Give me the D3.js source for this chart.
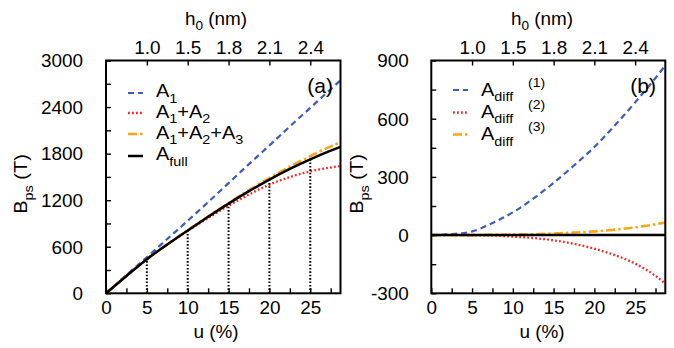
<!DOCTYPE html>
<html><head><meta charset="utf-8">
<script src="https://cdn.jsdelivr.net/npm/d3@7"></script>
<style>
body{margin:0;background:#fff}
text{font-family:"Liberation Sans",Arial,Helvetica,sans-serif;fill:#000}
</style>
</head><body>
<svg id="chart" width="674" height="348"></svg>
<script>
// ---- data ----
const u = [0, 2.5, 5, 7.5, 10, 12.5, 15, 17.5, 20, 22.5, 25, 27.5, 28.7];
const A1 = [0, 235, 465, 700, 935, 1175, 1420, 1665, 1905, 2150, 2390, 2630, 2745];
const A12 = [0, 224, 439, 628, 803, 970, 1128, 1272, 1400, 1498, 1572, 1622, 1640];
const A123 = [0, 224, 440, 631, 812, 990, 1164, 1329, 1485, 1631, 1766, 1894, 1945];
const Afull = [0, 224, 440, 630, 810, 986, 1156, 1316, 1466, 1603, 1726, 1838, 1888];
const diff1 = [0, 5, 19, 62, 117, 188, 269, 359, 454, 565, 684, 810, 875];
const diff2 = [0, 0, -1, -2, -8, -15, -27, -45, -70, -103, -147, -210, -250];
const diff3 = [0, 0, 0, 1, 2, 4, 8, 13, 19, 28, 40, 56, 65];
const diffFull = [0, 0, 0, 0, 0, 0, 0, 0, 0, 0, 0, 0, 0];
const dropU = [5, 10, 15, 20, 25];
const dropB = [440, 810, 1156, 1466, 1726];
const uTicks = [0, 2.5, 5, 7.5, 10, 12.5, 15, 17.5, 20, 22.5, 25, 27.5];
const h0Ticks = [5, 10, 15, 20, 25];
const h0Labels = ["1.0", "1.5", "1.8", "2.1", "2.4"];
const yTicksA = [0, 300, 600, 900, 1200, 1500, 1800, 2100, 2400, 2700, 3000];
const yTicksB = [-300, -150, 0, 150, 300, 450, 600, 750, 900];

const SX = 1.08, FS = 17.5, LFS = 18.5;
const svg = d3.select("#chart");

const C = {blue: "#3a5cba", red: "#ff2222", orange: "#ffa510", black: "#000"};
const styles = {
  blue: {color: C.blue, w: 2.2, dash: "6,4"},
  red: {color: C.red, w: 2.3, dash: "1.8,2.2"},
  orange: {color: C.orange, w: 2.6, dash: "9,3,2.5,3"},
  black: {color: C.black, w: 2.5, dash: null}
};

function rich(g, x, y, parts, opt = {}) {
  const size = opt.size || FS;
  const t = g.append("text")
    .attr("transform", `translate(${x},${y})${opt.rotate ? ` rotate(${opt.rotate})` : ""} scale(${SX},1)`)
    .attr("text-anchor", opt.anchor || "start")
    .style("font-size", size + "px");
  let shift = 0;
  parts.forEach(p => {
    const target = p.sub ? size * 0.3 : 0;
    t.append("tspan").attr("dy", target - shift)
      .style("font-size", (p.sub ? size * 0.72 : size) + "px").text(p.t);
    shift = target;
  });
  return t;
}

function panel(cfg) {
  const x = d3.scaleLinear().domain([0, 28.7]).range([cfg.x0, cfg.x1]);
  const y = d3.scaleLinear().domain(cfg.ydom).range([293.3, 60.5]);
  const g = svg.append("g");

  const line = vals => d3.line().x((d, i) => x(u[i])).y(d => y(d)).curve(d3.curveMonotoneX)(vals);
  cfg.series.forEach(s => {
    const st = styles[s.style];
    g.append("path").attr("d", line(s.vals)).attr("fill", "none")
      .attr("stroke", st.color).attr("stroke-width", st.w)
      .attr("stroke-dasharray", st.dash);
  });

  if (cfg.drops) {
    g.selectAll(".drop").data(dropU).enter().append("line")
      .attr("x1", d => x(d)).attr("x2", d => x(d))
      .attr("y1", y(0)).attr("y2", (d, i) => y(dropB[i]))
      .attr("stroke", "#000").attr("stroke-width", 2).attr("stroke-dasharray", "1.6,1.8");
  }

  const ax = g.append("g").attr("transform", `translate(0,${y.range()[0]})`)
    .call(d3.axisBottom(x).tickValues(uTicks).tickSize(-5).tickFormat(d => d % 5 === 0 ? d : ""));
  ax.selectAll("text").attr("y", 8).attr("dy", "0.71em").style("font-size", FS + "px")
    .attr("transform", `scale(${SX},1)`);
  const at = g.append("g").attr("transform", `translate(0,${y.range()[1]})`)
    .call(d3.axisTop(x).tickValues(h0Ticks).tickSize(-5).tickFormat((d, i) => h0Labels[i]));
  at.selectAll("text").attr("y", -7).attr("dy", "0").style("font-size", FS + "px")
    .attr("transform", `scale(${SX},1)`);
  const al = g.append("g").attr("transform", `translate(${x.range()[0]},0)`)
    .call(d3.axisLeft(y).tickValues(cfg.yticks).tickSize(-5).tickFormat(d => d % cfg.lab === 0 ? d : ""));
  al.selectAll("text").attr("x", -cfg.gap / SX).attr("dy", "0.36em").style("font-size", FS + "px")
    .attr("transform", `scale(${SX},1)`);
  [ax, at, al].forEach(a => {
    a.select(".domain").remove();
    a.selectAll("line").attr("stroke", "#000").attr("stroke-width", 1.4);
  });

  g.append("rect").attr("x", cfg.x0).attr("y", 60.5).attr("width", cfg.x1 - cfg.x0).attr("height", 293.3 - 60.5)
    .attr("fill", "none").attr("stroke", "#000").attr("stroke-width", 2);

  rich(g, cfg.tx, 338, [{t: "u (%)"}], {anchor: "middle"});
  rich(g, cfg.tx, 25, [{t: "h"}, {t: "0", sub: true}, {t: " (nm)"}], {anchor: "middle"});
  rich(g, cfg.bx, 184, [{t: "B"}, {t: "ps", sub: true}, {t: " (T)"}], {anchor: "middle", rotate: -90, size: 18.5});
  rich(g, cfg.lx, 93, [{t: cfg.label}], {anchor: "end", size: 19.5});

  cfg.legend.forEach(L => {
    const st = styles[L.style];
    g.append("line").attr("x1", L.x1).attr("x2", L.x1 + 15).attr("y1", L.ly).attr("y2", L.ly)
      .attr("stroke", st.color).attr("stroke-width", st.w).attr("stroke-dasharray", st.dash);
    rich(g, L.tx, L.ty, L.parts, {size: LFS});
    if (L.sup) rich(g, L.sx, L.sy, [{t: L.sup}], {size: 13});
  });
}

panel({
  x0: 106, x1: 340.5, ydom: [0, 3000], yticks: yTicksA, lab: 600, gap: 23,
  tx: 216, bx: 27, lx: 333, label: "(a)", drops: true,
  series: [
    {vals: A1, style: "blue"},
    {vals: A12, style: "red"},
    {vals: A123, style: "orange"},
    {vals: Afull, style: "black"}
  ],
  legend: [
    {style: "blue", x1: 128, ly: 93, tx: 156, ty: 97, parts: [{t: "A"}, {t: "1", sub: true}]},
    {style: "red", x1: 128, ly: 113, tx: 156, ty: 117.5, parts: [{t: "A"}, {t: "1", sub: true}, {t: "+A"}, {t: "2", sub: true}]},
    {style: "orange", x1: 128, ly: 134, tx: 156, ty: 138.5, parts: [{t: "A"}, {t: "1", sub: true}, {t: "+A"}, {t: "2", sub: true}, {t: "+A"}, {t: "3", sub: true}]},
    {style: "black", x1: 128, ly: 156, tx: 156, ty: 160, parts: [{t: "A"}, {t: "full", sub: true}]}
  ]
});

panel({
  x0: 431.3, x1: 665.3, ydom: [-300, 900], yticks: yTicksB, lab: 300, gap: 22.6,
  tx: 542, bx: 363, lx: 656, label: "(b)", drops: false,
  series: [
    {vals: diff1, style: "blue"},
    {vals: diff2, style: "red"},
    {vals: diff3, style: "orange"},
    {vals: diffFull, style: "black"}
  ],
  legend: [
    {style: "blue", x1: 453, ly: 90, tx: 481, ty: 95.5, parts: [{t: "A"}, {t: "diff", sub: true}], sup: "(1)", sx: 528, sy: 87},
    {style: "red", x1: 453, ly: 112.5, tx: 481, ty: 117.5, parts: [{t: "A"}, {t: "diff", sub: true}], sup: "(2)", sx: 528, sy: 109},
    {style: "orange", x1: 453, ly: 134.5, tx: 481, ty: 140, parts: [{t: "A"}, {t: "diff", sub: true}], sup: "(3)", sx: 528, sy: 131}
  ]
});
</script>
</body></html>
